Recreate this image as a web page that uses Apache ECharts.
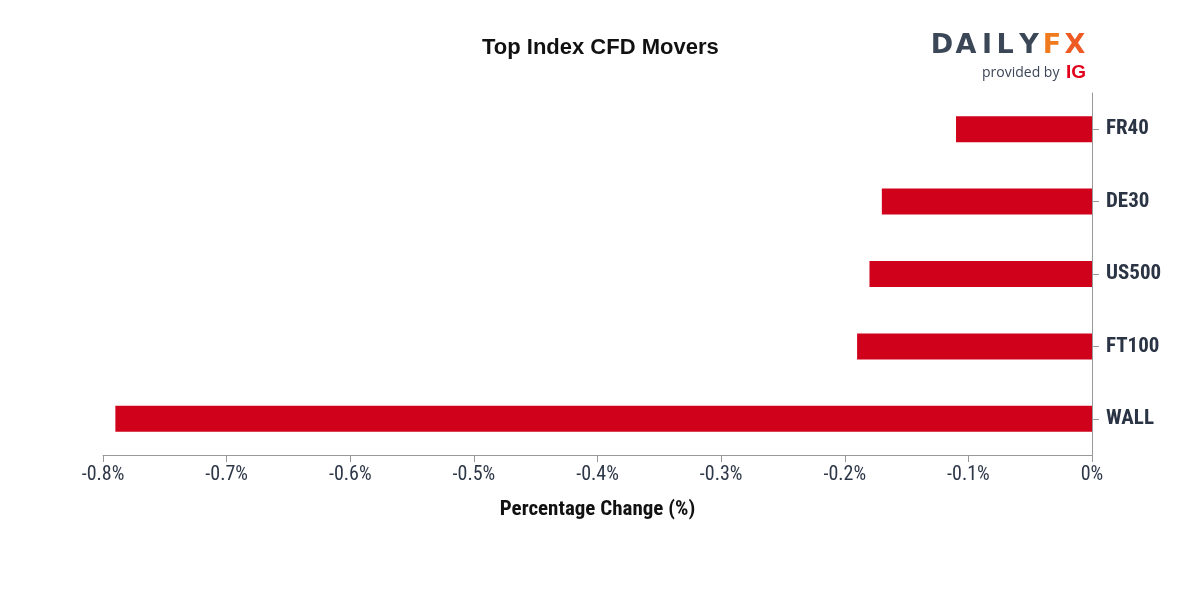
<!DOCTYPE html>
<html>
<head>
<meta charset="utf-8">
<script src="https://cdn.jsdelivr.net/npm/echarts@6/dist/echarts.min.js"></script>
<style>html,body{margin:0;padding:0;background:#fff}#c{width:1200px;height:600px}</style>
</head>
<body>
<div id="c"></div>
<script>
const categories = ['WALL', 'FT100', 'US500', 'DE30', 'FR40'];
const values = [-0.79, -0.19, -0.18, -0.17, -0.11];
const xTicks = [-0.8, -0.7, -0.6, -0.5, -0.4, -0.3, -0.2, -0.1, 0];

const cond = '"Roboto Condensed", "Liberation Sans Narrow", "Arial Narrow", Roboto, sans-serif';
const logoLetters = [
  { t: 'D', x: 942, c: '#3b4656' }, { t: 'A', x: 966, c: '#3b4656' }, { t: 'I', x: 987, c: '#3b4656' },
  { t: 'L', x: 1005, c: '#3b4656' }, { t: 'Y', x: 1029, c: '#3b4656' },
  { t: 'F', x: 1052, c: '#f07a1e' }, { t: 'X', x: 1075, c: '#ee5a24' }
];
const chart = echarts.init(document.getElementById('c'));
chart.setOption({
  animation: false,
  backgroundColor: '#fff',
  title: {
    text: 'Top Index CFD Movers',
    left: 477, top: 32,
    textStyle: { fontFamily: 'Arial, "Liberation Sans", sans-serif', fontWeight: 'bold', fontSize: 22, color: '#111' }
  },
  grid: { left: 103, right: 108, top: 93, bottom: 145, containLabel: false },
  xAxis: {
    type: 'value', min: -0.8, max: 0, interval: 0.1,
    name: 'Percentage Change (%)', nameLocation: 'middle', nameGap: 44,
    nameTextStyle: { fontFamily: cond, fontWeight: 'bold', fontSize: 21, color: '#111' },
    axisLine: { show: true, lineStyle: { color: '#999', width: 1 } },
    axisTick: { show: true, length: 7, lineStyle: { color: '#999' } },
    splitLine: { show: false },
    axisLabel: {
      margin: 10, fontFamily: cond, fontSize: 20, color: '#2d3748',
      formatter: v => { const r = Math.round(v * 10) / 10; return (r === 0 ? '0' : r.toFixed(1)) + '%'; }
    }
  },
  yAxis: {
    type: 'category', data: categories, position: 'right',
    axisLine: { show: true, lineStyle: { color: '#999', width: 1 } },
    axisTick: { show: true, length: 7, alignWithLabel: true, lineStyle: { color: '#999' } },
    axisLabel: { margin: 14, fontFamily: cond, fontWeight: 'bold', fontSize: 21, color: '#2b3444' }
  },
  series: [{
    type: 'bar', data: values, barWidth: 26,
    itemStyle: { color: '#d0021b' }
  }],
  graphic: logoLetters.map(l => ({
    type: 'text', x: l.x, y: 46,
    style: { text: l.t, font: 'bold 27px "DejaVu Sans", sans-serif', fill: l.c, align: 'center', verticalAlign: 'middle' }
  })).concat([
    { type: 'text', x: 982, y: 73, style: { text: 'provided by', font: '14px "Open Sans", sans-serif', fill: '#3b4656', verticalAlign: 'middle' } },
    { type: 'text', x: 1066, y: 73, style: { text: 'IG', font: 'bold 19px "Liberation Sans", sans-serif', fill: '#e3001b', verticalAlign: 'middle' } }
  ])
});
</script>
</body>
</html>
